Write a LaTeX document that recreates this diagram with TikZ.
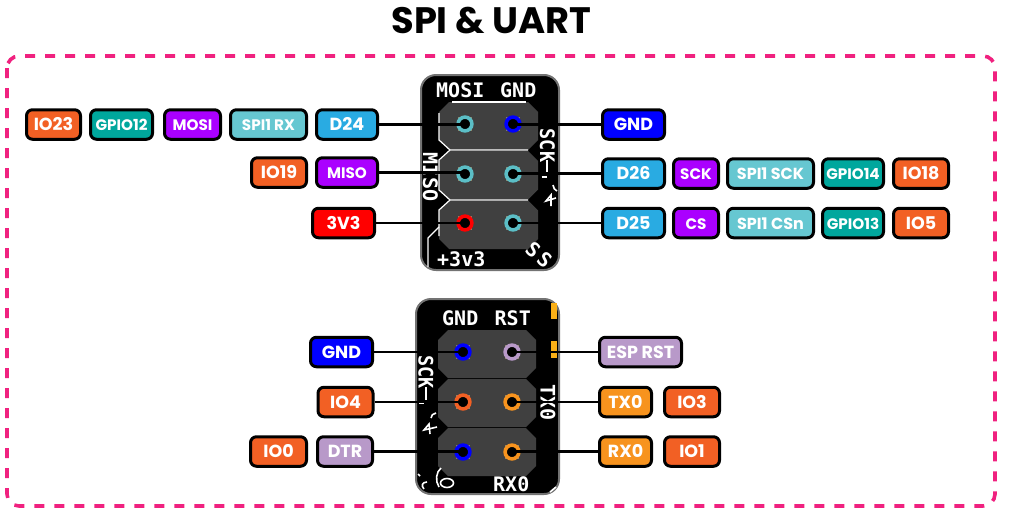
\documentclass[tikz,border=0pt]{standalone}
\usepackage{fontspec}
\usepackage{graphicx}
\setmainfont{Poppins}
\newfontfamily\silkfont{DejaVu Sans Mono}
\definecolor{cIO}{HTML}{F26024}
\definecolor{cGPIO}{HTML}{00A79D}
\definecolor{cFUNC}{HTML}{AA00FF}
\definecolor{cSPI}{HTML}{66C7D1}
\definecolor{cD}{HTML}{29ABE2}
\definecolor{cGND}{HTML}{0000FF}
\definecolor{cPWR}{HTML}{FF0000}
\definecolor{cLIL}{HTML}{B899C9}
\definecolor{cTX}{HTML}{F7931E}
\definecolor{cPINK}{HTML}{F0217F}
\definecolor{cPAD}{HTML}{404040}
\definecolor{cRING}{HTML}{5BBEC6}
\definecolor{cGOLD}{HTML}{FBB017}
\definecolor{cTAN}{HTML}{8F8468}
\tikzset{
  chip/.style={draw=black,line width=3pt,rounded corners=6pt,inner sep=0pt,text=white,text height=12.6pt,text depth=0pt,font=\bfseries\fontsize{17.5}{17.5}\selectfont,anchor=center},
  wire/.style={draw=black,line width=2.8pt},
  board/.style={draw=black!55,fill=black,line width=2pt,rounded corners=15pt},
  pad/.style={fill=cPAD},
  silk/.style={text=white,inner sep=0pt,font=\silkfont\bfseries\fontsize{20}{20}\selectfont},
  silkline/.style={draw=white,line width=1.2pt},
  scribble/.style={draw=white,line width=1.6pt},
  hole/.style={circle,draw=#1,line width=3.6pt,fill=black,minimum size=13.8pt,inner sep=0pt},
  tanpad/.style={fill=cTAN}
}
\newcommand{\szA}{\fontsize{15.2}{15.2}\selectfont}
\newcommand{\szB}{\fontsize{16}{16}\selectfont}
\newcommand{\chipnode}[6]{% name, x1, x2, y, colour, text
  \pgfmathsetmacro{\chipx}{(#2+#3)/2}
  \pgfmathsetmacro{\chipw}{#3-#2-3}
  \node[chip,fill=#5,minimum width=\chipw pt,minimum height=29.5pt] (#1) at (\chipx,#4) {#6};
}
\newcommand{\padoct}[4]{% x1 x2 y1 y2
  \fill[pad] (#1+10,#3) -- (#2-10,#3) -- (#2,#3+10) -- (#2,#4-10) -- (#2-10,#4) -- (#1+10,#4) -- (#1,#4-10) -- (#1,#3+10) -- cycle;
}
\newcommand{\holenode}[4]{% name x y colour
  \fill[tanpad] (#2-7,#3-7) rectangle (#2+7,#3+7);
  \node[hole=#4] (#1) at (#2,#3) {};
}
\begin{document}
\begin{tikzpicture}[x=1pt,y=-1pt]
\useasboundingbox (0,0) rectangle (1011,509);
\node[inner sep=0pt,text=black,font=\bfseries\fontsize{36.8}{36.8}\selectfont] (title) at (491.5,21) {SPI \& UART};
\draw[cPINK,line width=3.6pt,dash pattern=on 10pt off 10pt,rounded corners=12pt] (7,56) rectangle (995,506);

% top board
\draw[board] (421,75) rectangle (559,270);
\padoct{439}{538}{102}{150}
\padoct{439}{538}{151}{199.5}
\padoct{439}{538}{200.5}{249}
\draw[silkline] (439,113) -- (439,140) -- (450,150) -- (528,150);
\draw[silkline] (452,102) -- (526,102);
\draw[silkline] (450,150) -- (439,160) -- (439,190) -- (450,200) -- (528,200);
\draw[silkline] (450,200) -- (439,210) -- (439,236);
\draw[silkline] (428,267) -- (428,238) -- (439,227);
\node[silk,anchor=base west] (t1a) at (436,97) {MOSI};
\node[silk,anchor=base west] (t1b) at (500,97) {GND};
\node[silk,rotate=-90] (t1c) at (430.5,177) {MISO};
\node[silk,rotate=-90] (t1d) at (547.5,145.5) {\scalebox{.92}[1]{SCK}};
\node[silk,anchor=base west] (t1e) at (437,266) {+3v3};
\node[silk,rotate=-40] (t1f) at (539,255) {S\kern3pt S};
\draw[scribble] (547,160) -- (547,172);
\draw[scribble] (541.6,177) -- (546.6,177);
\draw[scribble] (553,185) .. controls (553,188) and (555,190) .. (557,191);
\draw[scribble] (556,198) -- (546,201) -- (551,195) -- (551,206);

\holenode{h1}{465}{124}{cRING}
\holenode{h2}{513}{124}{cGND}
\holenode{h3}{465}{174}{cRING}
\holenode{h4}{513}{174}{cRING}
\holenode{h5}{465}{223}{cPWR}
\holenode{h6}{513}{223}{cRING}

% bottom board
\draw[board] (416,299) rectangle (559,494);
\fill[cGOLD] (551,303) rectangle (557,319);
\fill[cGOLD] (551,341) rectangle (557,358);
\padoct{438}{536}{330}{378}
\padoct{438}{536}{379}{427}
\padoct{438}{536}{428}{476}
\node[silk,anchor=base west] (t2a) at (442,325) {GND};
\node[silk,anchor=base west] (t2b) at (494.5,325) {RST};
\node[silk,rotate=-90] (t2c) at (426,372) {\scalebox{.92}[1]{SCK}};
\node[silk,rotate=-90] (t2d) at (548,402.5) {TX0};
\node[silk,anchor=base west] (t2e) at (493,491.5) {RX0};
\draw[scribble] (426,387) -- (426,400);
\draw[scribble] (419,403.5) -- (424,403.5);
\draw[scribble] (431,418) .. controls (431,415) and (433,414) .. (436,413);
\draw[scribble] (437,427) -- (424,430) -- (429,424) -- (430,434);
\draw[scribble] (441,468) .. controls (436,472) and (435,481) .. (439,487);
\draw[scribble] (447,483) ellipse (6.5pt and 4.5pt);
\draw[scribble] (427,482) .. controls (422,482) and (421,486) .. (424,489);
\draw[scribble] (418,474) -- (420,476);
\draw[scribble] (556,487) -- (550,492);

\holenode{h7}{463}{352}{cGND}
\holenode{h8}{512}{352}{cLIL}
\holenode{h9}{463}{402}{cIO}
\holenode{h10}{512}{402}{cTX}
\holenode{h11}{463}{452}{cGND}
\holenode{h12}{512}{452}{cTX}

% top left chips
\chipnode{a1}{25}{82}{124.5}{cIO}{IO23}
\chipnode{a2}{89}{154}{124.5}{cGPIO}{\szA GPIO12}
\chipnode{a3}{163}{222}{124.5}{cFUNC}{\szA MOSI}
\chipnode{a4}{229}{308}{124.5}{cSPI}{\szA SPI1 RX}
\chipnode{a5}{315}{379}{124.5}{cD}{D24}
\chipnode{b1}{250}{308}{172.5}{cIO}{IO19}
\chipnode{b2}{315}{379}{172.5}{cFUNC}{\szA MISO}
\chipnode{c1}{311}{376}{223}{cPWR}{3V3}
% top right chips
\chipnode{d1}{601}{666}{124.5}{cGND}{GND}
\chipnode{e1}{601}{666}{173.5}{cD}{D26}
\chipnode{e2}{672}{720}{173.5}{cFUNC}{\szA SCK}
\chipnode{e3}{726}{815}{173.5}{cSPI}{\szB SPI1 SCK}
\chipnode{e4}{821}{885}{173.5}{cGPIO}{\szA GPIO14}
\chipnode{e5}{892}{950}{173.5}{cIO}{IO18}
\chipnode{f1}{601}{666}{223}{cD}{D25}
\chipnode{f2}{672}{720}{223}{cFUNC}{\szA CS}
\chipnode{f3}{726}{815}{223}{cSPI}{\szB SPI1 CSn}
\chipnode{f4}{821}{885}{223}{cGPIO}{\szA GPIO13}
\chipnode{f5}{892}{950}{223}{cIO}{IO5}
% bottom chips
\chipnode{g1}{309}{374}{352}{cGND}{GND}
\chipnode{i1}{316.5}{374.5}{402}{cIO}{IO4}
\chipnode{j1}{249}{308}{451.5}{cIO}{IO0}
\chipnode{j2}{316}{374}{451.5}{cLIL}{DTR}
\chipnode{k1}{598}{683}{352}{cLIL}{ESP RST}
\chipnode{l1}{598}{653}{402}{cTX}{TX0}
\chipnode{l2}{663}{721}{402}{cIO}{IO3}
\chipnode{m1}{598}{653}{451.5}{cTX}{RX0}
\chipnode{m2}{663}{721}{451.5}{cIO}{IO1}

% connectors
\draw[wire] (a5.east) -- (a5.east -| h1.center);
\draw[wire] (d1.west) -- (d1.west -| h2.center);
\draw[wire] (b2.east) -- (b2.east -| h3.center);
\draw[wire] (e1.west) -- (e1.west -| h4.center);
\draw[wire] (c1.east) -- (c1.east -| h5.center);
\draw[wire] (f1.west) -- (f1.west -| h6.center);
\draw[wire] (g1.east) -- (g1.east -| h7.center);
\draw[wire] (k1.west) -- (k1.west -| h8.center);
\draw[wire] (i1.east) -- (i1.east -| h9.center);
\draw[wire] (l1.west) -- (l1.west -| h10.center);
\draw[wire] (j2.east) -- (j2.east -| h11.center);
\draw[wire] (m1.west) -- (m1.west -| h12.center);
\end{tikzpicture}
\end{document}
